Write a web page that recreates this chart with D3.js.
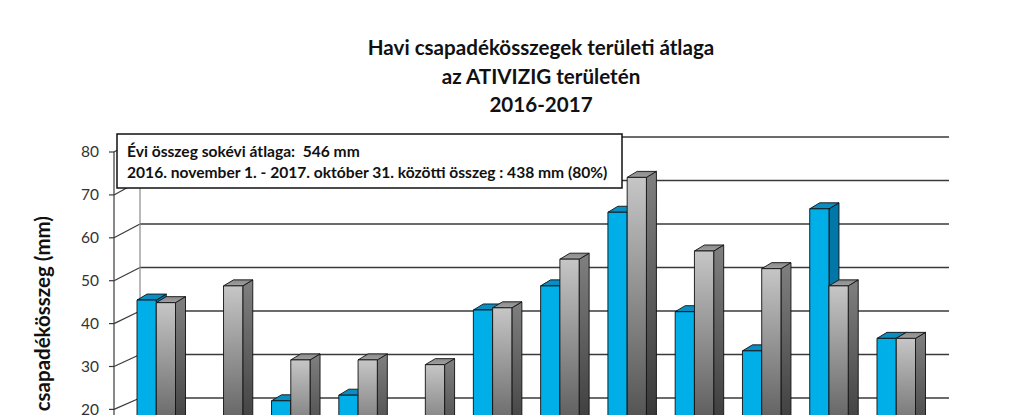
<!DOCTYPE html>
<html><head><meta charset="utf-8">
<script src="https://cdn.jsdelivr.net/npm/d3@7"></script>
<style>body{margin:0;background:#fff}svg{display:block;font-family:Lato,'Open Sans',sans-serif}text{white-space:pre}</style>
</head><body><svg id="c" width="1024" height="415"></svg>
<script>
const months = ["november","december","január","február","március","április","május","június","július","augusztus","szeptember","október"];
const seriesNames = ["2016-2017","sokévi átlag"];
const actual = [44.8, 9, 21.4, 22.7, 7, 42.5, 48.1, 65.2, 42.1, 33.0, 66.0, 35.9];
const average = [44.2, 48.1, 30.9, 30.9, 29.8, 43.0, 54.3, 73.3, 56.2, 52.1, 48.1, 35.9];
const yTickValues = [0,10,20,30,40,50,60,70,80];
const titleLines = ["Havi csapadékösszegek területi átlaga","az ATIVIZIG területén","2016-2017"];
const noteLines = ["Évi összeg sokévi átlaga:  546 mm","2016. november 1. - 2017. október 31. közötti összeg : 438 mm (80%)"];
const yTitle = "Havi csapadékösszeg (mm)";

const svg = d3.select("#c");
const defs = svg.append("defs");
function grad(id, stops){
  const g = defs.append("linearGradient").attr("id",id).attr("x1",0).attr("y1",0).attr("x2",0).attr("y2",1);
  stops.forEach(s=>g.append("stop").attr("offset",s[0]).attr("stop-color",s[1]));
}
grad("gFront",[[0,"#c6c6c6"],[1,"#303030"]]);
grad("gSide",[[0,"#808080"],[1,"#222222"]]);
grad("gTop",[[0,"#8a8a8a"],[1,"#a0a0a0"]]);

const yFront = d3.scaleLinear().domain([0,80]).range([495.2,152]);
const yBack  = d3.scaleLinear().domain([0,80]).range([485,137]);
const yBar   = d3.scaleLinear().domain([0,80]).range([492.9,148.55]);
const frontX = 114, backX = 140, backRight = 949;

const x0 = d3.scaleBand().domain(months).range([137,915.5]).paddingInner(0.4277).paddingOuter(0);
const x1 = d3.scaleBand().domain(seriesNames).range([0,x0.bandwidth()]).padding(0);

const g = svg.append("g");
// back wall gridlines
g.selectAll("line.grid").data(yTickValues).join("line")
  .attr("x1",backX).attr("x2",backRight).attr("y1",d=>yBack(d)).attr("y2",d=>yBack(d))
  .attr("stroke","#3a3a3a").attr("stroke-width",1.5);
// left wall diagonals
g.selectAll("line.diag").data(yTickValues).join("line")
  .attr("x1",frontX).attr("x2",backX).attr("y1",d=>yFront(d)).attr("y2",d=>yBack(d))
  .attr("stroke","#3a3a3a").attr("stroke-width",1.2);
// back-left vertical edge
g.append("line").attr("x1",backX).attr("x2",backX).attr("y1",yBack(80)).attr("y2",yBack(0))
  .attr("stroke","#8a8a8a").attr("stroke-width",1.2);
// front axis
g.append("line").attr("x1",frontX).attr("x2",frontX).attr("y1",yFront(80)).attr("y2",yFront(0))
  .attr("stroke","#3a3a3a").attr("stroke-width",1.2);
g.selectAll("line.tick").data(yTickValues).join("line")
  .attr("x1",frontX-5).attr("x2",frontX).attr("y1",d=>yFront(d)).attr("y2",d=>yFront(d))
  .attr("stroke","#3a3a3a").attr("stroke-width",1.2);
g.selectAll("text.tl").data(yTickValues.filter(v=>yFront(v)<=410)).join("text")
  .attr("x",frontX-15).attr("y",d=>yFront(d)).attr("dy","0.35em")
  .attr("text-anchor","end").attr("font-size",15.5).attr("fill","#333")
  .text(d=>d);

// bars
const dx = 10, dy = -6;
const styles = {
  "2016-2017":{front:"#00aee8", top:"#0a8ec2", side:"#0077a6"},
  "sokévi átlag":{front:"url(#gFront)", top:"url(#gTop)", side:"url(#gSide)"}
};
const bars = g.append("g");
months.forEach((m,i)=>{
  [[seriesNames[0],actual[i]],[seriesNames[1],average[i]]].forEach(([s,v])=>{
    const xl = x0(m)+x1(s), w = x1.bandwidth(), yt = yBar(v), yb = yBar(0);
    const st = styles[s];
    const bg = bars.append("g").attr("stroke","#111").attr("stroke-width",0.9).attr("stroke-linejoin","round");
    bg.append("polygon").attr("points",[[xl+w,yt],[xl+w+dx,yt+dy],[xl+w+dx,yb+dy],[xl+w,yb]].join(" ")).attr("fill",st.side);
    bg.append("polygon").attr("points",[[xl,yt],[xl+dx,yt+dy],[xl+w+dx,yt+dy],[xl+w,yt]].join(" ")).attr("fill",st.top);
    bg.append("rect").attr("x",xl).attr("y",yt).attr("width",w).attr("height",yb-yt).attr("fill",st.front);
  });
});

// title
svg.append("text").attr("text-anchor","middle").attr("font-weight","bold").attr("font-size",20.6).attr("fill","#111")
  .selectAll("tspan").data(titleLines).join("tspan")
  .attr("x",541).attr("y",(d,i)=>55+i*28.5).text(d=>d);

// y title
svg.append("text").attr("transform","translate(50,216) rotate(-90)")
  .attr("text-anchor","end").attr("font-weight","bold").attr("font-size",20.5).attr("fill","#111")
  .text(yTitle);

// note box
svg.append("rect").attr("x",117).attr("y",134).attr("width",505).attr("height",54)
  .attr("fill","#fff").attr("stroke","#111").attr("stroke-width",1.5);
svg.append("text").attr("font-weight","bold").attr("font-size",15.6).attr("fill","#111")
  .selectAll("tspan").data(noteLines).join("tspan")
  .attr("x",127).attr("y",(d,i)=>157+i*21).text(d=>d);
</script></body></html>
